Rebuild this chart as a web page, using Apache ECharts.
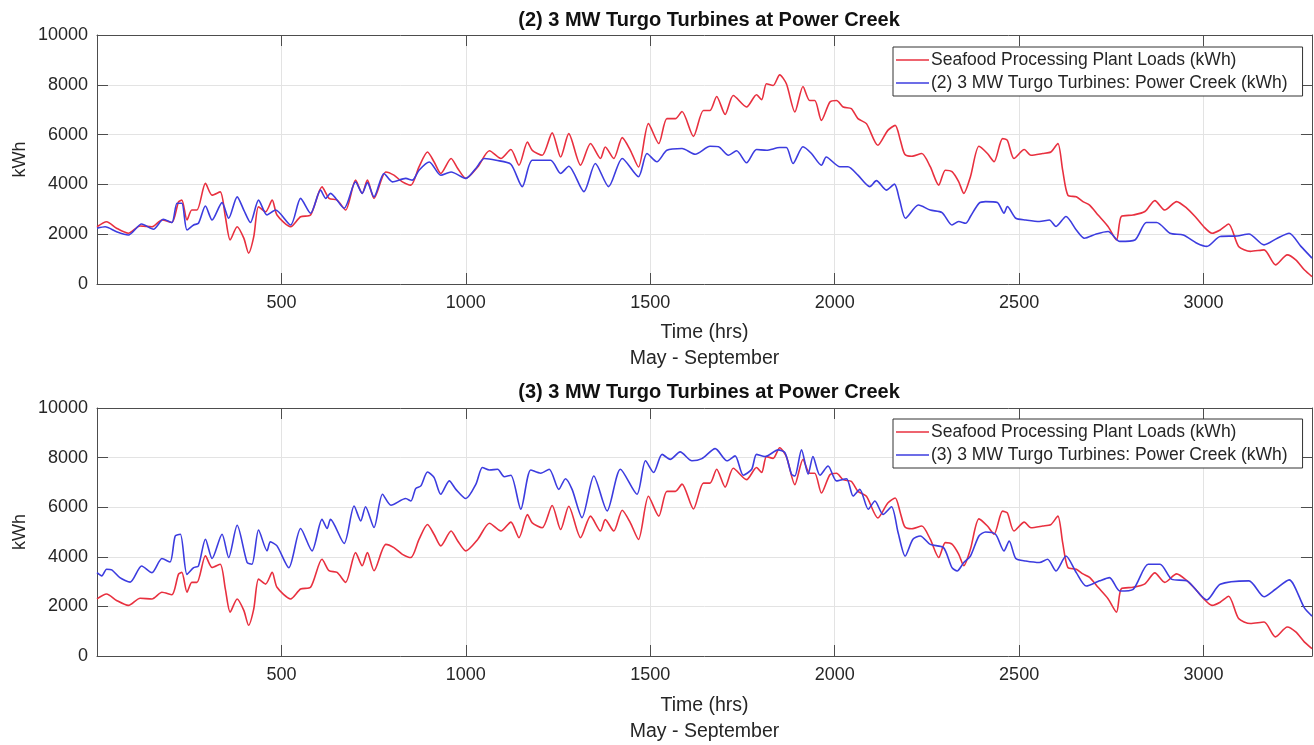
<!DOCTYPE html>
<html>
<head>
<meta charset="utf-8">
<script src="https://cdn.jsdelivr.net/npm/echarts@6/dist/echarts.min.js"></script>
<style>
  html, body { margin: 0; padding: 0; background: #fff; }
  #chart { width: 1314px; height: 745px; }
</style>
</head>
<body>
<div id="chart"></div>
<script>
// [hour, kWh]
const plantLoad = [
  [0,2300],[26,2500],[53,2240],[85,2040],[117,2330],[149,2300],[176,2570],[203,2470],[221,3300],[230,3370],
  [244,2570],[257,2970],[271,2970],[294,4040],[312,3570],[334,3700],[348,2700],[361,1770],[380,2300],[398,1840],
  [411,1240],[425,1900],[438,3100],[457,2900],[475,3370],[488,2770],[525,2300],[552,2700],[579,2770],[610,3900],
  [629,3440],[651,3370],[674,2970],[701,4170],[719,3640],[733,4170],[751,3440],[783,4500],[805,4370],[828,4100],
  [851,3970],[873,4700],[896,5300],[914,4900],[932,4440],[960,5040],[978,4640],[1000,4240],[1032,4700],[1064,5350],
  [1095,5040],[1122,5400],[1144,4770],[1167,5700],[1180,5370],[1207,5170],[1234,6070],[1257,5100],[1279,6040],[1311,4770],
  [1338,5640],[1365,5040],[1378,5500],[1401,5040],[1424,5880],[1446,5370],[1468,4700],[1495,6440],[1523,5640],[1545,6640],
  [1568,6640],[1586,6930],[1617,5930],[1644,6970],[1662,6970],[1680,7530],[1703,6810],[1725,7570],[1761,7110],[1788,7600],
  [1802,7400],[1815,8040],[1833,7970],[1851,8400],[1869,8040],[1892,6910],[1914,7930],[1932,7370],[1946,7370],[1964,6570],
  [1987,7310],[2005,7370],[2023,7110],[2045,7040],[2063,6640],[2086,6440],[2117,5570],[2144,6170],[2164,6370],[2178,5770],
  [2190,5210],[2209,5130],[2236,5240],[2259,4710],[2282,3970],[2300,4570],[2318,4510],[2336,4110],[2350,3640],[2368,4310],
  [2391,5530],[2414,5240],[2432,4910],[2455,5840],[2468,5770],[2486,5040],[2514,5400],[2532,5170],[2564,5240],[2586,5300],
  [2605,5640],[2618,4570],[2632,3570],[2655,3500],[2673,3310],[2691,3170],[2714,2770],[2741,2310],[2764,1770],[2777,2710],
  [2809,2770],[2841,2910],[2868,3350],[2895,2970],[2927,3310],[2955,3040],[2977,2710],[3000,2310],[3023,2040],[3045,2170],
  [3068,2410],[3095,1510],[3127,1310],[3164,1370],[3195,770],[3227,1170],[3250,970],[3273,570],[3294,300]
];

const twoTurbines = [
  [0,2240],[22,2300],[53,2100],[85,1970],[121,2410],[153,2200],[180,2600],[203,2470],[217,3240],[230,3240],
  [244,2170],[262,2370],[275,2440],[294,3130],[312,2570],[339,3270],[357,2640],[380,3500],[398,2970],[416,2470],
  [438,3370],[461,2770],[484,2970],[525,2370],[552,3440],[579,2840],[606,3770],[620,3440],[633,3640],[670,3040],
  [701,4100],[719,3640],[733,4070],[751,3500],[778,4440],[801,4100],[837,4240],[855,4170],[873,4570],[901,4900],
  [932,4370],[960,4500],[1000,4240],[1027,4640],[1050,5040],[1082,4970],[1122,4810],[1153,3910],[1180,4970],[1230,4970],
  [1257,4440],[1279,4730],[1320,3710],[1351,4840],[1387,3910],[1424,5040],[1468,4310],[1491,5240],[1518,4910],[1545,5370],
  [1586,5440],[1622,5210],[1662,5530],[1685,5510],[1712,5170],[1734,5350],[1761,4870],[1788,5400],[1815,5370],[1851,5480],
  [1869,5480],[1887,4840],[1914,5510],[1937,5240],[1964,4770],[1977,5100],[2014,4710],[2036,4710],[2063,4370],[2095,3910],
  [2113,4150],[2140,3770],[2162,4010],[2176,3370],[2192,2640],[2227,3170],[2259,2970],[2291,2870],[2318,2370],[2336,2510],
  [2355,2440],[2368,2710],[2391,3240],[2409,3310],[2441,3270],[2459,2840],[2468,3110],[2491,2640],[2518,2570],[2555,2510],
  [2582,2570],[2600,2310],[2627,2710],[2655,2170],[2677,1840],[2709,2010],[2741,2110],[2773,1710],[2814,1770],[2845,2470],
  [2873,2470],[2909,2040],[2945,1970],[2982,1640],[3009,1510],[3045,1910],[3091,1930],[3123,2010],[3164,1570],[3200,1840],
  [3232,2040],[3264,1510],[3294,1040]
];

const threeTurbines = [
  [0,3360],[13,3230],[26,3500],[40,3470],[62,3160],[90,2980],[121,3630],[149,3360],[176,3930],[198,3790],
  [212,4840],[226,4910],[244,3290],[262,3560],[275,3630],[294,4710],[312,3930],[339,4910],[357,3970],[380,5270],
  [407,3770],[420,3700],[438,5080],[461,4240],[470,4600],[488,4440],[520,3560],[552,5140],[583,4240],[610,5510],
  [624,5140],[633,5510],[670,4540],[697,6050],[715,5450],[728,6020],[751,5180],[774,6520],[797,6080],[837,6350],
  [851,6250],[864,6750],[878,6860],[896,7420],[914,7190],[932,6520],[955,7060],[973,6720],[1000,6350],[1027,6920],
  [1045,7600],[1064,7500],[1086,7530],[1104,7230],[1122,7290],[1149,5920],[1176,7500],[1203,7370],[1226,7530],[1252,6720],
  [1270,7150],[1288,6720],[1315,5580],[1347,7260],[1383,5850],[1419,7530],[1464,6520],[1487,7870],[1509,7400],[1532,8130],
  [1554,7930],[1581,8230],[1613,7870],[1640,7960],[1676,8360],[1708,7870],[1730,8070],[1752,7290],[1775,7530],[1788,8130],
  [1811,8040],[1847,8310],[1865,8200],[1883,7330],[1892,7260],[1910,8310],[1928,7330],[1941,8040],[1960,7290],[1982,7660],
  [2005,7060],[2032,7150],[2050,6450],[2068,6720],[2091,5920],[2109,6250],[2131,5710],[2154,6020],[2172,4970],[2191,4030],
  [2212,4710],[2232,4840],[2259,4500],[2295,4370],[2318,3560],[2332,3430],[2350,3770],[2368,4030],[2391,4840],[2409,5000],
  [2436,4910],[2459,4240],[2473,4640],[2491,3930],[2518,3830],[2555,3770],[2577,3900],[2600,3430],[2627,4030],[2655,3360],
  [2682,2820],[2718,3030],[2745,3160],[2773,2620],[2809,2690],[2850,3700],[2882,3700],[2914,3090],[2955,3030],[3009,2260],
  [3045,2890],[3123,3030],[3164,2390],[3195,2690],[3232,3070],[3273,1950],[3294,1610]
];

const panelTitles = ['(2) 3 MW Turgo Turbines at Power Creek', '(3) 3 MW Turgo Turbines at Power Creek'];
const loadName = 'Seafood Processing Plant Loads (kWh)';
const turbineNames = ['(2) 3 MW Turgo Turbines: Power Creek (kWh)', '(3) 3 MW Turgo Turbines: Power Creek (kWh)'];
const xTickLabels = [500, 1000, 1500, 2000, 2500, 3000];
const X_MAX = 3294;

const FONT = '"Liberation Sans", Arial, sans-serif';
const INK = '#262626';
const AXIS = '#4d4d4d';
const RED = '#e8303f';
const BLUE = '#3c3cdf';

const grids = [
  { left: 97, right: 2, top: 35, height: 249, outerBoundsMode: 'none' },
  { left: 97, right: 2, top: 408, height: 248, outerBoundsMode: 'none' },
];

function mainX(gi) {
  return {
    type: 'value', gridIndex: gi, min: 0, max: X_MAX, interval: 500,
    name: 'Time (hrs)\nMay - September', nameLocation: 'middle', nameGap: gi === 0 ? 36 : 37,
    nameTextStyle: { fontFamily: FONT, fontSize: 19.5, color: INK, lineHeight: 26 },
    axisLine: { onZero: false, lineStyle: { color: AXIS, width: 1 } },
    axisTick: { inside: true, length: 11, lineStyle: { color: AXIS } },
    axisLabel: {
      fontFamily: FONT, fontSize: 18, color: INK, margin: 10,
      showMinLabel: false, showMaxLabel: false,
      formatter: v => (xTickLabels.includes(v) ? String(v) : ''),
    },
    splitLine: { show: true, lineStyle: { color: '#e3e3e3', width: 1 } },
  };
}
// top and right axes only close the box and carry the inward ticks
function topX(gi) {
  return {
    type: 'value', gridIndex: gi, min: 0, max: X_MAX, interval: 500, position: 'top',
    axisLine: { onZero: false, lineStyle: { color: AXIS, width: 1 } },
    axisTick: { inside: true, length: 11, lineStyle: { color: AXIS } },
    axisLabel: { show: false }, splitLine: { show: false },
  };
}
function mainY(gi) {
  return {
    type: 'value', gridIndex: gi, min: 0, max: 10000, interval: 2000,
    name: 'kWh', nameLocation: 'middle', nameGap: 68, nameRotate: 90, nameMoveOverlap: false,
    nameTextStyle: { fontFamily: FONT, fontSize: 18, color: INK },
    axisLine: { show: true, onZero: false, lineStyle: { color: AXIS, width: 1 } },
    axisTick: { show: true, inside: true, length: 11, lineStyle: { color: AXIS } },
    axisLabel: { fontFamily: FONT, fontSize: 18, color: INK, margin: 9, formatter: v => String(v) },
    splitLine: { show: true, lineStyle: { color: '#e3e3e3', width: 1 } },
  };
}
function rightY(gi) {
  return {
    type: 'value', gridIndex: gi, min: 0, max: 10000, interval: 2000, position: 'right',
    axisLine: { show: true, onZero: false, lineStyle: { color: AXIS, width: 1 } },
    axisTick: { show: true, inside: true, length: 11, lineStyle: { color: AXIS } },
    axisLabel: { show: false }, splitLine: { show: false },
  };
}

function lineSeries(name, data, axisIdx, color) {
  return {
    name, type: 'line', data, xAxisIndex: axisIdx, yAxisIndex: axisIdx,
    symbol: 'none', smooth: 0.25, animation: false,
    lineStyle: { color, width: 1.6 }, itemStyle: { color },
  };
}

function legendFor(i, top) {
  return {
    left: 893, top, orient: 'vertical',
    data: [loadName, turbineNames[i]],
    icon: 'rect', itemWidth: 33, itemHeight: 1.6, itemGap: 3,
    padding: [3, 15, 3, 3],
    borderColor: '#333', borderWidth: 1, backgroundColor: '#fff',
    textStyle: { fontFamily: FONT, fontSize: 17.5, color: INK, lineHeight: 20, padding: [0, 0, 0, -3] },
    selectedMode: false,
  };
}

const chart = echarts.init(document.getElementById('chart'));
chart.setOption({
  backgroundColor: '#fff',
  animation: false,
  title: panelTitles.map((t, i) => ({
    text: t, left: 704, top: i === 0 ? 5 : 377, textAlign: 'center',
    textStyle: { fontFamily: FONT, fontSize: 20, fontWeight: 'bold', color: '#111' },
  })),
  legend: [legendFor(0, 47), legendFor(1, 419)],
  grid: grids,
  xAxis: [mainX(0), topX(0), mainX(1), topX(1)],
  yAxis: [mainY(0), rightY(0), mainY(1), rightY(1)],
  series: [
    lineSeries(loadName, plantLoad, 0, RED),
    lineSeries(turbineNames[0], twoTurbines, 0, BLUE),
    lineSeries(loadName, plantLoad, 2, RED),
    lineSeries(turbineNames[1], threeTurbines, 2, BLUE),
  ],
});
</script>
</body>
</html>
